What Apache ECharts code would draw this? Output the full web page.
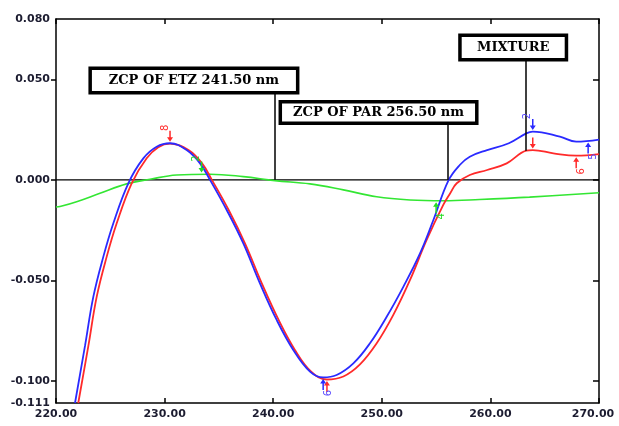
<!DOCTYPE html>
<html>
<head>
<meta charset="utf-8">
<script src="https://cdn.jsdelivr.net/npm/echarts@6/dist/echarts.min.js"></script>
<style>html,body{margin:0;padding:0;background:#fff}#c{width:619px;height:426px}</style>
</head>
<body>
<div id="c"></div>
<script>
// Wavelength (nm) and amplitude values
var blueX = [221.75,222.67,223.44,224.36,225.28,226.66,228.04,229.27,230.5,232.03,233.26,234.18,235.72,237.25,238.78,240.32,241.85,243.39,244.6,245.84,247.38,248.91,250.45,251.98,253.52,254.75,256.13,257.2,258.1,259.7,261.7,263.3,263.9,266.4,267.9,270];
var blueY = [-0.111,-0.0826,-0.0581,-0.0382,-0.0216,-0.0017,0.0107,0.0165,0.0182,0.0148,0.0082,0.0,-0.015,-0.0316,-0.0515,-0.0697,-0.0846,-0.0954,-0.0983,-0.0971,-0.0913,-0.0813,-0.0681,-0.0532,-0.0366,-0.02,-0.0004,0.0075,0.0115,0.0148,0.0182,0.0231,0.024,0.0215,0.019,0.020];
var redX = [222.05,222.98,223.75,224.67,225.59,226.97,228.35,229.42,230.5,232.2,233.45,234.35,235.9,237.4,238.95,240.5,242.0,243.5,244.92,246.46,247.99,249.53,251.06,252.6,254.13,255.66,256.3,256.9,258.1,259.7,261.5,263.3,263.9,265.8,267.9,270];
var redY = [-0.111,-0.0826,-0.0581,-0.0382,-0.0216,-0.0017,0.0107,0.0162,0.018,0.0148,0.0082,0.0,-0.015,-0.0316,-0.0515,-0.0697,-0.0846,-0.0954,-0.0993,-0.0978,-0.0918,-0.0813,-0.0672,-0.0498,-0.0299,-0.0125,-0.0067,-0.0017,0.0024,0.0049,0.0082,0.0145,0.0148,0.0132,0.012,0.0128];
var greenX = [220,220.37,221.9,224.05,226.5,228.66,231.11,234.18,237.25,240.17,243.39,246.46,249.53,252.6,255.66,259.0,263.6,270];
var greenY = [-0.0135,-0.0133,-0.0109,-0.0067,-0.002,0.0003,0.0024,0.0028,0.0016,-0.0004,-0.002,-0.005,-0.0084,-0.01,-0.0104,-0.0098,-0.0086,-0.0064];
var zeroX = [220,270];
var zeroY = [0,0];

var xTickLabels = [220,230,240,250,260,270];
var yTickLabels = [-0.111,-0.1,-0.05,0,0.05,0.08];
var yTicks = [-0.1,-0.05,0,0.05];

// Annotation boxes and connectors
var boxText = ['ZCP OF ETZ 241.50 nm','ZCP OF PAR 256.50 nm','MIXTURE'];
var boxX = [232.7,249.7,262.1];
var boxY = [0.0494,0.0335,0.0658];
var connX = [240.1,256.1,263.3];
var connY0 = [0,0,0.0145];
var connY1 = [0.0432,0.0283,0.0596];

// Peak markers
var markBlueX = [244.6,263.9,269.0];
var markBlueY = [-0.0983,0.024,0.0193];
var markBlueDir = ['up','down','up'];
var markBlueLab = ['6','2','5'];
var markRedX = [230.5,244.95,263.9,267.9];
var markRedY = [0.0182,-0.0993,0.0148,0.012];
var markRedDir = ['down','up','down','up'];
var markRedLab = ['8','','','6'];
var markGreenX = [233.4,255.0];
var markGreenY = [0.0029,-0.0104];
var markGreenDir = ['down','up'];
var markGreenLab = ['2','4'];

function zip(a,b){var r=[];for(var i=0;i<a.length;i++)r.push([a[i],b[i]]);return r;}
var arrowPath = 'path://M3,0 L5,0 L5,7 L8,7 L4,12 L0,7 L3,7 Z';
function markers(xs,ys,dirs,labs,color,labColor){
  var d=[];
  for(var i=0;i<xs.length;i++){
    var down = dirs[i]==='down';
    d.push({
      coord:[xs[i],ys[i]],
      symbol:arrowPath,
      symbolSize:[6,11],
      symbolRotate: down?0:180,
      symbolOffset:[0, down?-7:7],
      itemStyle:{color:color},
      label:{show:labs[i]!=='',formatter:labs[i],position:down?'top':'bottom',distance:3,
        rotate:90,color:labColor||color,fontSize:10,fontFamily:'DejaVu Sans'}
    });
  }
  return {symbolKeepAspect:false,data:d,animation:false,z:5};
}

var boxes=[];
var boxSizes=[[204,21],[193,18],[103,21]];
for(var i=0;i<boxText.length;i++){
  boxes.push({coord:[boxX[i],boxY[i]],symbol:'rect',symbolSize:1,
    itemStyle:{color:'rgba(0,0,0,0)'},
    label:{show:true,position:'inside',formatter:boxText[i],color:'#000',
      fontFamily:'DejaVu Serif',fontWeight:'bold',fontSize:13,
      backgroundColor:'#fff',borderColor:'#000',borderWidth:3.5,padding:0,
      width:boxSizes[i][0],height:boxSizes[i][1],lineHeight:boxSizes[i][1],
      align:'center',verticalAlign:'middle'}});
}
var conns=[];
for(var i=0;i<connX.length;i++){
  conns.push([{coord:[connX[i],connY0[i]]},{coord:[connX[i],connY1[i]]}]);
}

var labelStyle={fontFamily:'DejaVu Sans',fontWeight:'bold',fontSize:11,color:'#1c1c30'};
var chart = echarts.init(document.getElementById('c'),null,{renderer:'canvas'});
chart.setOption({
  animation:false,
  backgroundColor:'#fff',
  grid:{left:56,right:20,top:19,bottom:23,containLabel:false,outerBoundsMode:'none'},
  xAxis:[{
    type:'value',min:220,max:270,interval:10,position:'bottom',
    name:'nm',nameLocation:'middle',nameGap:22,nameMoveOverlap:false,
    nameTextStyle:{fontFamily:'DejaVu Sans',fontWeight:'bold',fontSize:11,color:'#1c1c30'},
    axisLine:{show:true,onZero:false,lineStyle:{color:'#000',width:1.5}},
    axisTick:{show:true,inside:true,length:5,lineStyle:{color:'#000',width:1.5}},
    axisLabel:Object.assign({margin:6,
      formatter:function(v){return v===270?'{r|'+v.toFixed(2)+'}':v.toFixed(2);},
      rich:{r:{fontFamily:'DejaVu Sans',fontWeight:'bold',fontSize:11,color:'#1c1c30',padding:[0,12,0,0]}}},labelStyle),
    splitLine:{show:false}
  },{
    type:'value',min:220,max:270,interval:10,position:'top',
    axisLine:{show:true,onZero:false,lineStyle:{color:'#000',width:1.5}},
    axisTick:{show:true,inside:true,length:5,lineStyle:{color:'#000',width:1.5}},
    axisLabel:{show:false},splitLine:{show:false}
  }],
  yAxis:[{
    type:'value',min:-0.111,max:0.08,position:'left',
    axisLine:{show:true,onZero:false,lineStyle:{color:'#000',width:1.5}},
    axisTick:{show:true,inside:false,length:5,customValues:yTicks,lineStyle:{color:'#000',width:1.5}},
    axisLabel:Object.assign({margin:6,customValues:yTickLabels,formatter:function(v){return v.toFixed(3);}},labelStyle),
    splitLine:{show:false}
  },{
    type:'value',min:-0.111,max:0.08,position:'right',
    axisLine:{show:true,onZero:false,lineStyle:{color:'#000',width:1.5}},
    axisTick:{show:true,inside:true,length:6,customValues:yTicks,lineStyle:{color:'#000',width:1.5}},
    axisLabel:{show:false},splitLine:{show:false}
  }],
  series:[
    {name:'zero',type:'line',data:zip(zeroX,zeroY),showSymbol:false,z:1,
     lineStyle:{color:'#000',width:1.3},itemStyle:{color:'#000'},
     markLine:{silent:true,symbol:['none','none'],label:{show:false},lineStyle:{color:'#000',width:1.5,type:'solid'},data:conns,animation:false},
     markPoint:{data:boxes,animation:false,z:10}},
    {name:'green',type:'line',data:zip(greenX,greenY),showSymbol:false,smooth:0.4,z:2,
     lineStyle:{color:'#33e633',width:1.6},itemStyle:{color:'#33e633'},
     markPoint:markers(markGreenX,markGreenY,markGreenDir,markGreenLab,'#22dd22')},
    {name:'red',type:'line',data:zip(redX,redY),showSymbol:false,smooth:0.4,z:3,
     lineStyle:{color:'#ff2a2a',width:1.8},itemStyle:{color:'#ff2a2a'},
     markPoint:markers(markRedX,markRedY,markRedDir,markRedLab,'#ff2a2a')},
    {name:'blue',type:'line',data:zip(blueX,blueY),showSymbol:false,smooth:0.4,z:4,
     lineStyle:{color:'#2a2aff',width:1.8},itemStyle:{color:'#2a2aff'},
     markPoint:markers(markBlueX,markBlueY,markBlueDir,markBlueLab,'#2a2aff','#5a4aff')}
  ]
});
</script>
</body>
</html>
